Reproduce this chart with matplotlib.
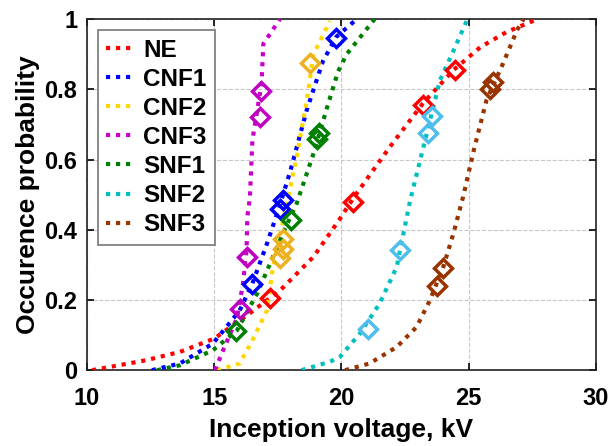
import numpy as np
import matplotlib.pyplot as plt
from matplotlib.ticker import MultipleLocator, FuncFormatter

# fitted curves
ne_x = [10.2, 12.3, 13.65, 15.0, 16.3, 17.6, 18.9, 19.9, 20.5, 21.9, 23.2, 24.4, 25.45, 26.5, 27.7]
ne_y = [0.0, 0.028, 0.052, 0.09, 0.157, 0.228, 0.323, 0.427, 0.494, 0.636, 0.76, 0.855, 0.92, 0.964, 1.0]

cnf1_x = [12.55, 13.65, 14.95, 16.0, 16.5, 17.07, 17.58, 18.0, 18.63, 19.27, 19.8, 20.6]
cnf1_y = [0.0, 0.019, 0.076, 0.17, 0.247, 0.36, 0.47, 0.57, 0.74, 0.88, 0.95, 1.0]

cnf2_x = [15.1, 16.0, 16.5, 17.07, 17.3, 17.6, 17.9, 18.24, 18.64, 18.9, 19.55]
cnf2_y = [0.0, 0.019, 0.085, 0.17, 0.29, 0.39, 0.49, 0.608, 0.77, 0.9, 0.995]

cnf3_x = [15.03, 15.35, 15.9, 16.13, 16.27, 16.3, 16.4, 16.5, 16.86, 16.93, 17.58]
cnf3_y = [0.0, 0.057, 0.15, 0.247, 0.342, 0.437, 0.49, 0.655, 0.817, 0.93, 1.0]

snf1_x = [12.75, 13.65, 14.95, 15.9, 16.7, 17.2, 17.7, 18.24, 18.9, 19.4, 19.86, 20.2, 21.3]
snf1_y = [0.0, 0.014, 0.057, 0.114, 0.22, 0.305, 0.39, 0.475, 0.617, 0.74, 0.85, 0.9, 1.0]

snf2_x = [18.43, 19.55, 19.94, 20.73, 21.5, 22.17, 22.7, 23.35, 23.87, 24.4, 24.92]
snf2_y = [0.0, 0.024, 0.038, 0.105, 0.19, 0.294, 0.484, 0.674, 0.826, 0.91, 0.995]

snf3_x = [20.14, 21.1, 22.17, 22.95, 23.48, 24.0, 24.4, 24.78, 25.2, 25.7, 26.35, 26.9, 27.15]
snf3_y = [0.0, 0.019, 0.066, 0.123, 0.2, 0.294, 0.39, 0.494, 0.627, 0.77, 0.874, 0.969, 1.0]

# measured points (diamonds)
ne_px = [17.2, 20.45, 23.2, 24.45]
ne_py = [0.205, 0.479, 0.755, 0.855]
cnf1_px = [16.5, 17.6, 17.7, 19.8]
cnf1_py = [0.245, 0.46, 0.485, 0.945]
cnf2_px = [17.6, 17.7, 17.7, 18.75]
cnf2_py = [0.32, 0.345, 0.375, 0.875]
cnf3_px = [16.0, 16.3, 16.8, 16.85]
cnf3_py = [0.175, 0.322, 0.722, 0.795]
snf1_px = [15.85, 18.0, 19.05, 19.1]
snf1_py = [0.112, 0.427, 0.66, 0.675]
snf2_px = [21.05, 22.3, 23.4, 23.55]
snf2_py = [0.116, 0.342, 0.675, 0.725]
snf3_px = [23.75, 24.0, 25.85, 25.95]
snf3_py = [0.24, 0.29, 0.8, 0.82]

names = ['NE', 'CNF1', 'CNF2', 'CNF3', 'SNF1', 'SNF2', 'SNF3']
curves = [(ne_x, ne_y), (cnf1_x, cnf1_y), (cnf2_x, cnf2_y), (cnf3_x, cnf3_y),
          (snf1_x, snf1_y), (snf2_x, snf2_y), (snf3_x, snf3_y)]
points = [(ne_px, ne_py), (cnf1_px, cnf1_py), (cnf2_px, cnf2_py), (cnf3_px, cnf3_py),
          (snf1_px, snf1_py), (snf2_px, snf2_py), (snf3_px, snf3_py)]
line_col = ['#FF0000', '#0000FF', '#FFD700', '#C800C8', '#008000', '#00BFBF', '#993300']
mark_col = ['#FF0000', '#0000FF', '#EDB120', '#C000C0', '#008000', '#4DBEEE', '#993300']

plt.rcParams['font.family'] = ['Liberation Sans', 'DejaVu Sans']
plt.rcParams['font.weight'] = 'bold'

fig = plt.figure(figsize=(6.1, 4.46), dpi=100)
ax = fig.add_axes([0.1426, 0.170, 0.8344, 0.787])

lines = []
for i in range(len(names)):
    cx, cy = curves[i]
    l, = ax.plot(cx, cy, color=line_col[i], lw=3, linestyle=(0, (1, 1.4)),
                 label=names[i], zorder=3)
    lines.append(l)
for i in range(len(names)):
    px, py = points[i]
    ax.plot(px, py, 'D', ms=9, mfc='none', mec=mark_col[i], mew=2.5, zorder=4)

ax.set_xlim(10, 30)
ax.set_ylim(0, 1)
ax.xaxis.set_major_locator(MultipleLocator(5))
ax.yaxis.set_major_locator(MultipleLocator(0.2))
ax.yaxis.set_major_formatter(FuncFormatter(lambda v, p: '%g' % round(v, 2)))
ax.grid(True, color='#c8c8c8', linestyle='--', linewidth=0.8)
ax.tick_params(direction='in', top=True, right=True, labelsize=17, length=5, width=1.2)
ax.tick_params(axis='x', pad=12)
ax.tick_params(axis='y', pad=7)
for s in ax.spines.values():
    s.set_linewidth(1.2)
    s.set_color('#222222')

ax.set_xlabel('Inception voltage, kV', fontsize=19, fontweight='bold', labelpad=6)
ax.set_ylabel('Occurence probability', fontsize=19, fontweight='bold', labelpad=3)

leg = ax.legend(handles=lines, loc='upper left', bbox_to_anchor=(0.0216, 0.9687),
                borderaxespad=0, fontsize=17.5, handlelength=1.2, handletextpad=0.3,
                labelspacing=0.25, borderpad=0.35, fancybox=False, framealpha=1)
leg.get_frame().set_edgecolor('#777777')
leg.get_frame().set_linewidth(1.2)

fig.savefig('out.png', dpi=100)
